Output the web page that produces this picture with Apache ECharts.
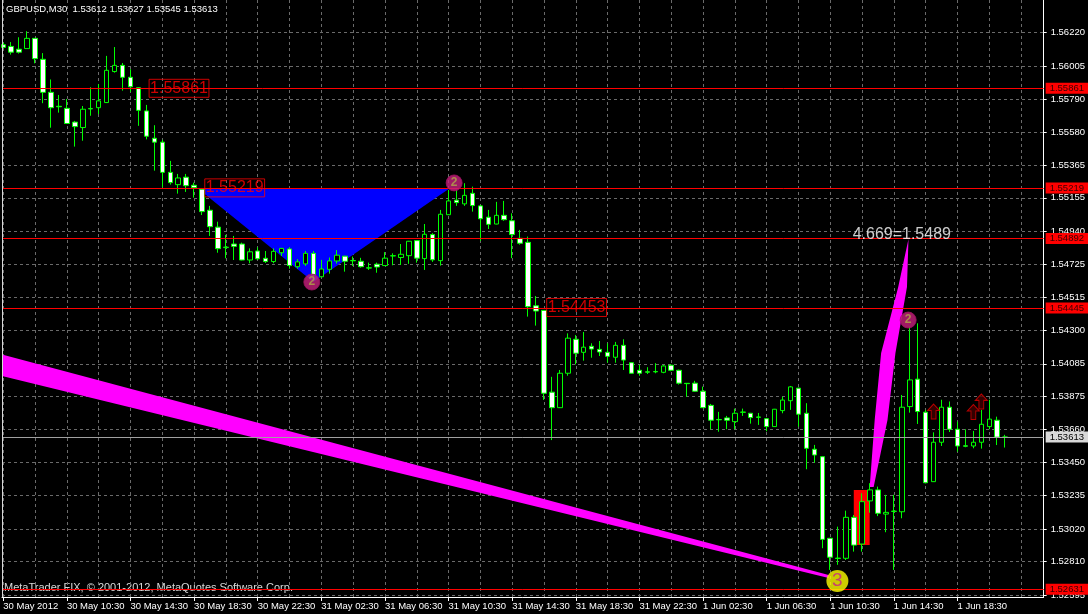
<!DOCTYPE html>
<html><head><meta charset="utf-8">
<script src="https://cdn.jsdelivr.net/npm/echarts@6/dist/echarts.min.js"></script>
<style>html,body{margin:0;padding:0;background:#000;}#c{width:1088px;height:614px;}</style>
</head><body><div id="c"></div>
<script>
// ---------- data ----------
const titleText = 'GBPUSD,M30  1.53612 1.53627 1.53545 1.53613';
const copyrightText = 'MetaTrader FIX, \u00A9 2001-2012, MetaQuotes Software Corp.';
const timeLabels = ['30 May 2012','30 May 10:30','30 May 14:30','30 May 18:30','30 May 22:30','31 May 02:30','31 May 06:30','31 May 10:30','31 May 14:30','31 May 18:30','31 May 22:30','1 Jun 02:30','1 Jun 06:30','1 Jun 10:30','1 Jun 14:30','1 Jun 18:30'];
const labelBars = [0,8,16,24,32,40,48,56,64,72,80,88,96,104,112,120];
const yTicks = [1.56220,1.56005,1.55790,1.55580,1.55365,1.55155,1.54940,1.54725,1.54515,1.54300,1.54085,1.53875,1.53660,1.53450,1.53235,1.53020,1.52810,1.52595];
// candles: [open, close, low, high]
const candles = [
[1.56142,1.56125,1.56120,1.56155],[1.56131,1.56094,1.56078,1.56159],[1.56113,1.56094,1.56085,1.56190],[1.56117,1.56183,1.56117,1.56229],
[1.56183,1.56052,1.56022,1.56183],[1.56048,1.55835,1.55765,1.56088],[1.55835,1.55736,1.55607,1.55918],[1.55745,1.55742,1.55704,1.55818],
[1.55732,1.55634,1.55632,1.55792],[1.55643,1.55614,1.55485,1.55651],[1.55608,1.55726,1.55523,1.55747],[1.55728,1.55731,1.55684,1.55868],
[1.55736,1.55780,1.55695,1.55889],[1.55769,1.55977,1.55766,1.56070],[1.55969,1.56009,1.55962,1.56127],[1.56009,1.55932,1.55846,1.56024],
[1.55932,1.55871,1.55837,1.55984],[1.55865,1.55719,1.55619,1.55869],[1.55715,1.55552,1.55532,1.55754],[1.55539,1.55514,1.55330,1.55623],
[1.55514,1.55319,1.55223,1.55529],[1.55319,1.55253,1.55240,1.55393],[1.55240,1.55283,1.55182,1.55309],[1.55288,1.55233,1.55193,1.55309],
[1.55236,1.55221,1.55156,1.55253],[1.55210,1.55066,1.55044,1.55217],[1.55075,1.54969,1.54909,1.55103],[1.54966,1.54827,1.54801,1.55001],
[1.54834,1.54837,1.54765,1.54916],[1.54857,1.54842,1.54754,1.54909],[1.54857,1.54754,1.54752,1.54866],[1.54754,1.54807,1.54733,1.54829],
[1.54812,1.54762,1.54754,1.54836],[1.54765,1.54744,1.54735,1.54812],[1.54744,1.54810,1.54733,1.54829],[1.54801,1.54829,1.54780,1.54832],
[1.54825,1.54718,1.54698,1.54836],[1.54711,1.54742,1.54698,1.54759],[1.54729,1.54797,1.54716,1.54812],[1.54797,1.54659,1.54646,1.54812],
[1.54646,1.54696,1.54642,1.54755],[1.54694,1.54748,1.54666,1.54770],[1.54748,1.54785,1.54731,1.54818],[1.54779,1.54746,1.54679,1.54781],
[1.54749,1.54751,1.54716,1.54776],[1.54746,1.54711,1.54705,1.54768],[1.54702,1.54704,1.54690,1.54737],[1.54727,1.54709,1.54672,1.54737],
[1.54718,1.54766,1.54716,1.54805],[1.54780,1.54782,1.54720,1.54797],[1.54770,1.54791,1.54722,1.54857],[1.54782,1.54875,1.54729,1.54877],
[1.54879,1.54766,1.54737,1.54883],[1.54763,1.54920,1.54690,1.54986],[1.54918,1.54755,1.54742,1.54927],[1.54750,1.55049,1.54718,1.55077],
[1.55046,1.55135,1.55044,1.55206],[1.55140,1.55124,1.55103,1.55206],[1.55116,1.55171,1.55103,1.55249],[1.55184,1.55105,1.55066,1.55227],
[1.55103,1.55020,1.54877,1.55109],[1.55030,1.54984,1.54954,1.55077],[1.54986,1.55042,1.54984,1.55129],[1.55042,1.55014,1.55007,1.55135],
[1.55007,1.54918,1.54766,1.55055],[1.54894,1.54862,1.54853,1.54948],[1.54868,1.54453,1.54389,1.54905],[1.54459,1.54425,1.54331,1.54522],
[1.54429,1.53895,1.53852,1.54431],[1.53902,1.53802,1.53593,1.54001],[1.53802,1.54024,1.53800,1.54045],[1.54024,1.54250,1.54008,1.54281],
[1.54243,1.54153,1.54081,1.54270],[1.54159,1.54192,1.54105,1.54290],[1.54198,1.54180,1.54124,1.54217],[1.54178,1.54161,1.54135,1.54232],
[1.54159,1.54133,1.54092,1.54217],[1.54127,1.54204,1.54092,1.54226],[1.54204,1.54109,1.54045,1.54243],[1.54092,1.54024,1.54022,1.54094],
[1.54043,1.54024,1.54008,1.54078],[1.54033,1.54031,1.54019,1.54063],[1.54035,1.54033,1.54024,1.54089],[1.54030,1.54071,1.54024,1.54078],
[1.54076,1.54043,1.54037,1.54080],[1.54043,1.53960,1.53951,1.54047],[1.53959,1.53957,1.53873,1.53959],[1.53960,1.53908,1.53904,1.53975],
[1.53908,1.53802,1.53800,1.53938],[1.53817,1.53721,1.53663,1.53826],[1.53726,1.53724,1.53647,1.53775],[1.53736,1.53721,1.53663,1.53749],
[1.53712,1.53766,1.53663,1.53796],[1.53772,1.53774,1.53749,1.53796],[1.53766,1.53738,1.53699,1.53768],[1.53742,1.53740,1.53691,1.53768],
[1.53731,1.53680,1.53650,1.53736],[1.53680,1.53792,1.53678,1.53794],[1.53783,1.53851,1.53766,1.53872],[1.53847,1.53936,1.53788,1.53942],
[1.53928,1.53760,1.53680,1.53930],[1.53766,1.53540,1.53405,1.53831],[1.53534,1.53497,1.53447,1.53562],[1.53486,1.52953,1.52896,1.53488],
[1.52960,1.52838,1.52756,1.52962],[1.52832,1.52830,1.52789,1.53035],[1.52831,1.53095,1.52820,1.53138],[1.53095,1.52916,1.52874,1.53110],
[1.52923,1.53196,1.52874,1.53250],[1.53201,1.53272,1.53125,1.53315],[1.53272,1.53121,1.53103,1.53293],[1.53116,1.53127,1.52999,1.53240],
[1.53133,1.53135,1.52756,1.53240],[1.53131,1.53805,1.53089,1.53884],[1.53809,1.53981,1.53770,1.54324],[1.53986,1.53777,1.53697,1.54346],
[1.53773,1.53318,1.53314,1.53788],[1.53325,1.53579,1.53323,1.53643],[1.53579,1.53805,1.53555,1.53853],[1.53805,1.53663,1.53645,1.53842],
[1.53663,1.53555,1.53518,1.53712],[1.53556,1.53554,1.53547,1.53663],[1.53555,1.53579,1.53540,1.53652],[1.53579,1.53695,1.53538,1.53788],
[1.53680,1.53728,1.53663,1.53853],[1.53721,1.53612,1.53561,1.53744],[1.53612,1.53613,1.53545,1.53627]
];
const levelLines = [1.55861, 1.55219, 1.54892, 1.54445, 1.52631];
const currentPrice = 1.53613;
const boxedLabels = [[18.34, 1.55861, '1.55861'], [25.34, 1.55219, '1.55219'], [68.34, 1.54448, '1.54453']];
const blueTriangle = [[24.4, 1.55219], [56.2, 1.55219], [39.0, 1.54612]];
const magentaBand = [[-0.2, 1.54145], [103.8, 1.52723], [103.8, 1.52704], [-0.2, 1.54006]];
const magentaLens = [[108.96, 1.53291], [109.59, 1.53723], [110.40, 1.54155], [112.55, 1.54580], [113.84, 1.5489], [113.65, 1.54580], [112.20, 1.54155], [111.20, 1.53723], [109.46, 1.53291]];
const redRect = [[106.96, 1.53271], [108.96, 1.53271], [108.96, 1.52917], [106.96, 1.52917]];
const circles2 = [[56.7, 1.55251], [38.8, 1.54612], [113.8, 1.54367]];
const circles3 = [[104.9, 1.52685]];
const upArrows = [[117, 1.53777], [122, 1.53774], [123, 1.53842]];
const fibText = [[113, 1.54915, '4.669=1.5489']];

// ---------- chart ----------
const FONT = '"Liberation Sans", Arial, sans-serif';
const X_MIN = -0.16, X_MAX = 130.84;
const Y_MIN = 1.525814, Y_MAX = 1.564303;
const gridBars = [];
for (let b = 0; b <= 128; b += 4) gridBars.push(b);
const dash = {color: '#6a6a6a', width: 1, type: [3, 3]};

function poly(points, color, z) {
  return {type: 'custom', z: z, silent: true, clip: true, data: [0],
    renderItem: (params, api) => ({type: 'polygon', shape: {points: points.map(p => api.coord(p))}, style: {fill: color}})};
}
const rightLabel = (fg, bg) => ({show: true, position: 'end', distance: 2, formatter: p => Number(p.value).toFixed(5),
  color: fg, backgroundColor: bg, padding: [1, 6, 0, 4], fontSize: 9.5, fontFamily: FONT});

const chart = echarts.init(document.getElementById('c'), null, {renderer: 'canvas'});
chart.setOption({
  backgroundColor: '#000000',
  animation: false,
  grid: {left: 2, top: 0, width: 1048, height: 597, show: false},
  xAxis: {
    type: 'value', min: X_MIN, max: X_MAX,
    axisLine: {show: true, onZero: false, lineStyle: {color: '#ffffff', width: 1}},
    axisTick: {show: true, customValues: labelBars, length: 4, lineStyle: {color: '#ffffff'}},
    axisLabel: {show: true, customValues: labelBars, formatter: v => timeLabels[labelBars.indexOf(v)] || '',
      color: '#ffffff', fontSize: 9.5, fontFamily: FONT, align: 'left', margin: 4},
    splitLine: {show: false}
  },
  yAxis: {
    type: 'value', position: 'right', min: Y_MIN, max: Y_MAX, scale: true,
    axisLine: {show: true, onZero: false, lineStyle: {color: '#ffffff', width: 1}},
    axisTick: {show: true, customValues: yTicks, length: 3, lineStyle: {color: '#ffffff'}},
    axisLabel: {show: true, customValues: yTicks, formatter: v => v.toFixed(5),
      color: '#ffffff', fontSize: 9.5, fontFamily: FONT, margin: 7},
    splitLine: {show: false}
  },
  graphic: [
    {type: 'line', z: 50, shape: {x1: 2.5, y1: 0, x2: 2.5, y2: 597}, style: {stroke: '#d8d8d8', lineWidth: 1}},
    {type: 'text', z: 50, x: 6, y: 4, style: {text: titleText, fill: '#ffffff', fontSize: 9.5, fontFamily: FONT}},
    {type: 'text', z: 1, x: 4, y: 588, style: {text: copyrightText, fill: '#d8d8d8', fontSize: 11, fontFamily: FONT, verticalAlign: 'middle'}}
  ],
  series: [
    {type: 'line', z: 1, silent: true, data: [], symbol: 'none',
      markLine: {z: 1, precision: 6, silent: true, symbol: ['none', 'none'], label: {show: false}, lineStyle: dash, animation: false,
        data: gridBars.map(b => ({xAxis: b})).concat(yTicks.map(v => ({yAxis: v})))}},
    poly(magentaBand, '#ff00ff', 2),
    poly(blueTriangle, '#0000ff', 2),
    poly(redRect, '#ff0000', 2),
    poly(magentaLens, '#ff00ff', 2),
    {type: 'candlestick', z: 3, silent: true, barWidth: 5,
      dimensions: ['idx', 'open', 'close', 'lowest', 'highest'],
      encode: {x: 'idx', y: ['open', 'close', 'lowest', 'highest']},
      data: candles.map((c, i) => [i, c[0], c[1], c[2], c[3]]),
      itemStyle: {color: '#000000', color0: '#ffffff', borderColor: '#00ff00', borderColor0: '#00ff00', borderColorDoji: '#00ff00', borderWidth: 1}},
    {type: 'line', z: 4, silent: true, data: [], symbol: 'none',
      markLine: {z: 4, precision: 6, silent: true, symbol: ['none', 'none'], animation: false,
        data: levelLines.map(v => ({yAxis: v, lineStyle: {color: '#ff0000', width: 1, type: 'solid'}, label: rightLabel('#3a0000', '#ff0000')}))
          .concat([{yAxis: currentPrice, lineStyle: {color: '#a0a0a0', width: 1, type: 'solid'}, label: rightLabel('#000000', '#d8d8d8')}])}},
    {type: 'scatter', z: 5, silent: true, symbolSize: 0, data: boxedLabels.map(d => [d[0], d[1], d[2]]),
      label: {show: true, position: 'right', distance: 0, formatter: p => p.data[2], color: '#ff0000',
        fontSize: 16, fontFamily: FONT, borderColor: '#ff0000', borderWidth: 1, padding: [1, 1, 0, 1], lineHeight: 17}},
    {type: 'scatter', z: 5, silent: true, symbol: 'circle', symbolSize: 16, data: circles2,
      itemStyle: {color: '#c8207e', borderColor: '#a01060', borderWidth: 1},
      label: {show: true, position: 'inside', formatter: '2', color: '#b0a848', fontSize: 12, fontWeight: 'bold', fontFamily: FONT}},
    {type: 'scatter', z: 5, silent: true, symbol: 'circle', symbolSize: 22, data: circles3,
      itemStyle: {color: '#ffff00'},
      label: {show: true, position: 'inside', formatter: '3', color: '#c8208a', fontSize: 19, fontFamily: FONT}},
    {type: 'scatter', z: 5, silent: true, symbol: 'path://M5,0 L10,6 L7,6 L7,14 L3,14 L3,6 L0,6 Z', symbolSize: [12, 15], data: upArrows,
      itemStyle: {color: '#400000', borderColor: '#e00000', borderWidth: 1}},
    {type: 'scatter', z: 5, silent: true, symbolSize: 0, data: fibText,
      label: {show: true, position: 'inside', formatter: p => p.data[2], color: '#ffffff', fontSize: 16, fontFamily: FONT}}
  ]
});
</script></body></html>
